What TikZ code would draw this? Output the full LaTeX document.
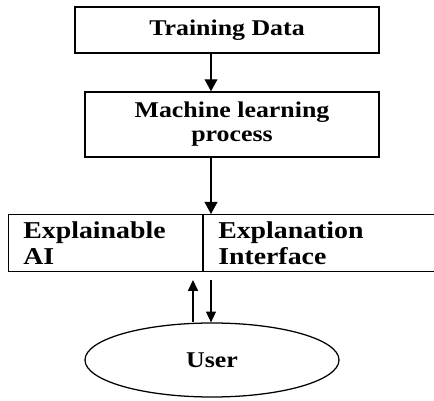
\documentclass[tikz,border=0pt]{standalone}
\usepackage{fontspec}
\setmainfont{Liberation Serif}[FakeStretch=1.15]
\usetikzlibrary{arrows.meta,positioning,shapes.geometric}

\begin{document}
\begin{tikzpicture}[
        flowbox/.style={rectangle, draw, line width=1pt, align=center,
                        font=\bfseries\fontsize{16}{17}\selectfont},
        halfbox/.style={rectangle, draw, line width=0.6pt, anchor=north west,
                        align=left, inner xsep=0.375cm, minimum height=1.425cm,
                        font=\bfseries\fontsize{17.2}{18.5}\selectfont},
        arr/.style={-{Triangle[length=0.3cm,width=0.32cm]}, line width=0.8pt},
        smallarr/.style={-{Triangle[length=0.27cm,width=0.25cm]}, line width=0.8pt}]
        \useasboundingbox (0,0) rectangle (10.85,-10.025);
        \node[flowbox, minimum width=7.6cm, minimum height=1.15cm] (train) at (5.675,-0.75) {Training Data};
        \node[flowbox, minimum width=7.35cm, minimum height=1.625cm] (ml) at (5.8,-3.1125)
            {Machine learning\\process};
        \node[halfbox, text width=4.1cm] (xai) at (0.2,-5.35) {Explainable\\AI};
        \node[halfbox, text width=5.02cm] (iface) at (xai.north east) {Explanation\\Interface};
        \node[ellipse, draw, line width=0.9pt, minimum width=6.35cm, minimum height=1.85cm,
              font=\bfseries\fontsize{16}{18}\selectfont] (user) at (5.3,-9.0) {User};
        % arrow positions
        \coordinate (axis) at (5.275,0);
        \coordinate (upx) at (4.825,-7.0);
        \coordinate (dnx) at (5.275,-7.0);
        \draw[arr] (train.south -| axis) -- (ml.north -| axis);
        \draw[arr] (ml.south -| axis) -- (iface.north -| axis);
        \draw[smallarr] (user.north -| upx) -- (upx);
        \draw[smallarr] (dnx) -- (user.north -| dnx);
    \end{tikzpicture}
\end{document}
